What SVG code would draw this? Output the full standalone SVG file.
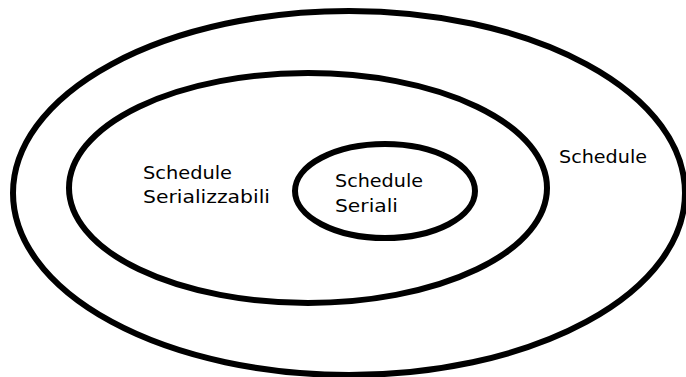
<svg xmlns="http://www.w3.org/2000/svg" width="686" height="377" viewBox="0 0 686 377">
<style>
.ring{fill:none;stroke:#000;stroke-width:6}
.lbl{font-family:"DejaVu Sans","Noto Sans",sans-serif;font-size:17px;fill:#000}
</style>
<rect width="686" height="377" fill="#fff"/>
<g id="schedule">
<ellipse class="ring" cx="349" cy="193" rx="336" ry="182"/>
<text class="lbl" x="559" y="163" textLength="88" lengthAdjust="spacingAndGlyphs">Schedule</text>
</g>
<g id="serializzabili">
<ellipse class="ring" cx="308" cy="188" rx="239" ry="115"/>
<text class="lbl" x="143" y="179" textLength="89" lengthAdjust="spacingAndGlyphs">Schedule</text>
<text class="lbl" x="143" y="203" textLength="127" lengthAdjust="spacingAndGlyphs">Serializzabili</text>
</g>
<g id="seriali">
<ellipse class="ring" cx="385" cy="191" rx="90" ry="47"/>
<text class="lbl" x="335" y="187" textLength="88" lengthAdjust="spacingAndGlyphs">Schedule</text>
<text class="lbl" x="335" y="212" textLength="63" lengthAdjust="spacingAndGlyphs">Seriali</text>
</g>
<g id="connectors"/>
</svg>
